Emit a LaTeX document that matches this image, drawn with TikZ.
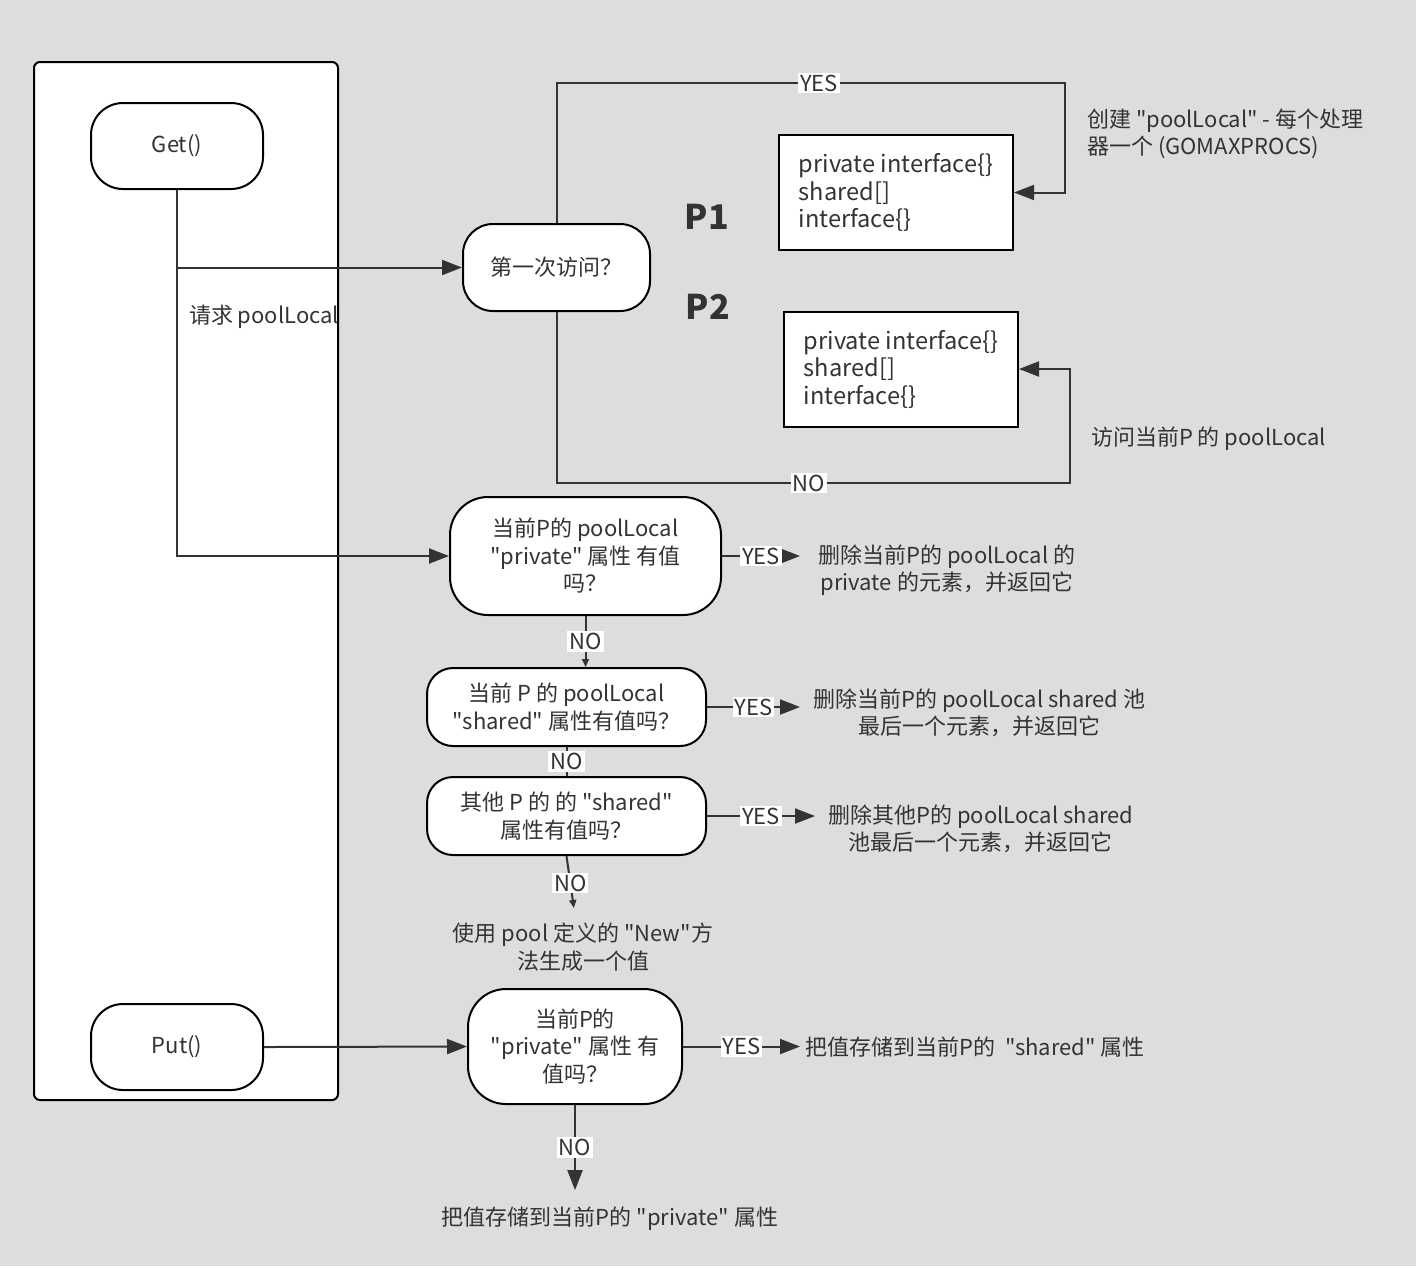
\documentclass[tikz,border=0pt]{standalone}
\usepackage{fontspec}
\setmainfont{Noto Sans CJK SC}[Ligatures=TeXOff]
\usepackage{tikz}
\usetikzlibrary{arrows.meta,calc,positioning}
\definecolor{paper}{RGB}{221,221,221}
\definecolor{ink}{RGB}{51,51,51}
\tikzset{
every node/.style={font=\fontsize{11}{13.75}\selectfont, text=ink}, % all texts
line/.style={draw=ink, line width=1pt},
flow/.style={line, -{Triangle[length=10pt,width=7.5pt]}}, % big arrow heads
tick/.style={line, -{Triangle[length=4pt,width=3.5pt]}}, % small arrow heads
term/.style={draw=black, line width=1pt, fill=white, rounded corners=16pt, minimum width=86pt, minimum height=43pt},
ask/.style={draw=black, line width=1pt, fill=white, align=center, inner sep=2pt},
slot/.style={draw=black, line width=1pt, fill=white, align=left, minimum width=117pt, minimum height=57.5pt, font=\fontsize{11.8}{13.75}\selectfont},
tag/.style={fill=white, inner sep=1pt},
note/.style={align=center, inner xsep=6.5pt},
}
\begin{document}
\begin{tikzpicture}[x=0.5pt,y=0.5pt,yscale=-1,xscale=1]
		\fill[paper] (0,0) rectangle (1416,1266);
		\useasboundingbox (0,0) rectangle (1416,1266);
		\draw[line width=1pt, fill=white, rounded corners=3pt] (34,62) rectangle (338,1100);
		
		% Text Node
		\node[term] (get) at (177,146) {Get()};
		\node[term] (put) at (177,1047) {Put()};
		\node[anchor=west] (ask) at (182,317) {请求 poolLocal};
		% Text Node
		\node[ask, rounded corners=15pt, minimum width=93.5pt, minimum height=43.5pt] (first) at (556.5,267.5) {第一次访问？};
		% Text Node
		\node[slot] (slota) at (896,192.5) {private interface\{\}\\shared[]\\interface\{\}};
		\node[slot] (slotb) at (901,369) {private interface\{\}\\shared[]\\interface\{\}};
		\node[font=\fontsize{17}{20}\bfseries] (pa) at (707,217) {P1};
		\node[font=\fontsize{17}{20}\bfseries] (pb) at (708,307) {P2};
		\node[anchor=west, align=left] (make) at (1080,134) {创建 "poolLocal" - 每个处理\\器一个 (GOMAXPROCS)};
		\node[anchor=west] (visit) at (1084,439) {访问当前P 的 poolLocal};
		% Text Node
		\node[ask, rounded corners=19pt, minimum width=135.5pt, minimum height=59pt] (priv) at (585.5,556) {当前P的 poolLocal\\"private" 属性 有值\\吗？};
		\node[ask, rounded corners=13pt, minimum width=139.5pt, minimum height=39pt] (shrd) at (566.5,707) {当前 P 的 poolLocal\\"shared" 属性有值吗？};
		\node[ask, rounded corners=13pt, minimum width=139.5pt, minimum height=39pt] (other) at (566.5,816) {其他 P 的 的 "shared"\\属性有值吗？};
		\node[note] (newval) at (583,947) {使用 pool 定义的 "New"方\\法生成一个值};
		\node[ask, rounded corners=19pt, minimum width=107pt, minimum height=57.5pt] (putpriv) at (575,1046.5) {当前P的\\"private" 属性 有\\值吗？};
		% Text Node
		\node[note, anchor=west, inner xsep=9pt] (privyes) at (800,570) {删除当前P的 poolLocal 的\\private 的元素，并返回它};
		\node[note, anchor=west] (shrdyes) at (800,713) {删除当前P的 poolLocal shared 池\\最后一个元素，并返回它};
		\node[note, anchor=west] (otheryes) at (815,829) {删除其他P的 poolLocal shared\\池最后一个元素，并返回它};
		\node[note, anchor=west, inner xsep=2.5pt] (putyes) at (800,1047) {把值存储到当前P的\ \ "shared" 属性};
		\node[note] (putno) at (610,1219) {把值存储到当前P的 "private" 属性};
		\coordinate (yesturn) at (1065,83);
		\coordinate (noturn) at (1070,483);
		
		% Connection
		\draw[flow] (get.south |- first.west) -- (first.west);
		\draw[flow] (get.south) |- (priv.west);
		% Connection
		\draw[flow] (first.north) |- (yesturn) |- (slota.east);
		\node[tag] (yesa) at (819,83) {YES};
		\draw[flow] (first.south) |- (noturn) |- (slotb.east);
		\node[tag] (noa) at (809,483) {NO};
		% Connection
		\draw[flow] (priv.east) -- (priv.east -| privyes.west) node[tag, midway] (yesb) {YES};
		\draw[tick] (priv.south) -- (priv.south |- shrd.north) node[tag, midway] (nob) {NO};
		\draw[flow] (shrd.east) -- (shrd.east -| shrdyes.west) node[tag, midway] (yesc) {YES};
		\draw[line] (shrd.south) -- (other.north) node[tag, midway] (noc) {NO};
		\draw[flow] (other.east) -- (other.east -| otheryes.west) node[tag, midway] (yesd) {YES};
		\draw[tick, shorten >=4pt] (other.south) -- ([xshift=-4pt]newval.north) node[tag, pos=0.45] (nod) {NO};
		% Connection
		\draw[flow] (put.east) -- (putpriv.west);
		\draw[flow] (putpriv.east) -- (putpriv.east -| putyes.west) node[tag, midway] (yese) {YES};
		\draw[flow, shorten >=5pt] (putpriv.south) -- (putpriv.south |- putno.north) node[tag, pos=0.45] (noe) {NO};
		
\end{tikzpicture}
\end{document}
